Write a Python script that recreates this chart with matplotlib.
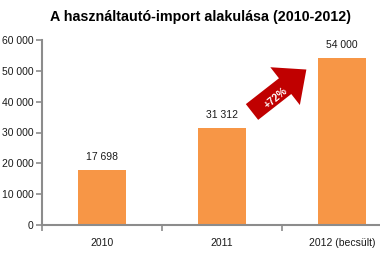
import matplotlib
from matplotlib import pyplot as plt
from matplotlib.patches import FancyArrow
import numpy as np

plt.rcParams['font.family'] = ['Liberation Sans', 'DejaVu Sans']

# data
years = ['2010', '2011', '2012 (becsült)']
imports = [17698, 31312, 54000]
y_ticks = [0, 10000, 20000, 30000, 40000, 50000, 60000]
growth_label = '+72%'

bar_color = '#F79646'
axis_color = '#8C8C8C'


def fmt(v):
    return '{:,}'.format(v).replace(',', ' ')


fig = plt.figure(figsize=(3.8, 2.54), dpi=100)
ax = fig.add_axes([42 / 380, 29 / 254, 360 / 380, 185 / 254])

x = np.arange(len(years))
ax.bar(x, imports, width=0.4, color=bar_color, zorder=2)
for xi, v in zip(x, imports):
    ax.text(xi, v + 2800, fmt(v), ha='center', va='bottom', fontsize=7.5, color='#1a1a1a')

ax.set_xlim(-0.5, 2.5)
ax.set_ylim(0, 60000)
ax.set_yticks(y_ticks)
ax.set_yticklabels([fmt(t) for t in y_ticks])
ax.set_xticks(x)
ax.set_xticklabels(years)
ax.set_xticks(np.append(x - 0.5, x[-1] + 0.5), minor=True)
ax.tick_params(axis='x', which='major', length=0, pad=9, labelsize=7.5, labelcolor='#1a1a1a')
ax.tick_params(axis='x', which='minor', length=4, color=axis_color, width=1.2)
ax.tick_params(axis='y', length=4, color=axis_color, width=1.2, pad=2, labelsize=7.5,
               labelcolor='#1a1a1a')
for s in ['top', 'right']:
    ax.spines[s].set_visible(False)
for s in ['left', 'bottom']:
    ax.spines[s].set_color(axis_color)
    ax.spines[s].set_linewidth(1.5)

fig.text(201 / 380, 1 - 17 / 254, 'A használtautó-import alakulása (2010-2012)',
         ha='center', va='center', fontsize=10.3, fontweight='bold')

# growth arrow in pixel coordinates
ov = fig.add_axes([0, 0, 1, 1])
ov.set_xlim(0, 380)
ov.set_ylim(254, 0)
ov.axis('off')
ang = np.radians(38)
L = 69
ov.add_patch(FancyArrow(252, 112, L * np.cos(ang), -L * np.sin(ang), width=20, head_width=48,
                        head_length=27, length_includes_head=True, color='#C00000', lw=0))
ov.text(276, 98, growth_label, rotation=40, ha='center', va='center', color='white',
        fontsize=7.5, fontweight='bold')

plt.savefig('out.png', dpi=100)
